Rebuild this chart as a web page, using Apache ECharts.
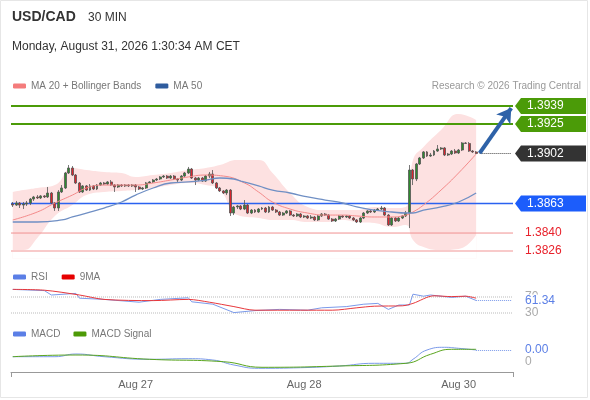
<!DOCTYPE html>
<html>
<head>
<meta charset="utf-8">
<script src="https://cdn.jsdelivr.net/npm/echarts@6/dist/echarts.min.js"></script>
<style>
html, body { margin: 0; padding: 0; background: #fff; }
#container { width: 590px; height: 400px; }
</style>
</head>
<body>
<div id="container"></div>
<script>
var dom = document.getElementById("container");
var myChart = echarts.init(dom);
var option;

// 30 min candles, [open, close, low, high]
var candles = [
  [1.38626,1.38618,1.38603,1.38642],[1.38618,1.38634,1.38611,1.38650],[1.38634,1.38618,1.38595,1.38642],
  [1.38618,1.38626,1.38587,1.38642],[1.38626,1.38634,1.38611,1.38650],[1.38634,1.38665,1.38618,1.38673],
  [1.38665,1.38681,1.38650,1.38689],[1.38681,1.38673,1.38665,1.38696],[1.38673,1.38689,1.38665,1.38696],
  [1.38689,1.38681,1.38673,1.38696],[1.38681,1.38712,1.38673,1.38759],[1.38712,1.38634,1.38626,1.38720],
  [1.38634,1.38595,1.38572,1.38642],[1.38595,1.38720,1.38572,1.38735],[1.38720,1.38751,1.38712,1.38774],
  [1.38751,1.38868,1.38743,1.38876],[1.38868,1.38907,1.38860,1.38930],[1.38907,1.38852,1.38844,1.38922],
  [1.38852,1.38790,1.38782,1.38860],[1.38790,1.38720,1.38712,1.38798],[1.38720,1.38767,1.38712,1.38774],
  [1.38767,1.38735,1.38728,1.38774],[1.38735,1.38767,1.38728,1.38782],[1.38767,1.38743,1.38735,1.38774],
  [1.38743,1.38774,1.38735,1.38782],[1.38774,1.38790,1.38767,1.38798],[1.38790,1.38782,1.38774,1.38798],
  [1.38782,1.38798,1.38774,1.38805],[1.38798,1.38774,1.38767,1.38813],[1.38774,1.38759,1.38720,1.38782],
  [1.38759,1.38774,1.38751,1.38782],[1.38774,1.38767,1.38759,1.38782],[1.38767,1.38774,1.38759,1.38782],
  [1.38774,1.38767,1.38759,1.38782],[1.38767,1.38774,1.38759,1.38782],[1.38774,1.38759,1.38720,1.38782],
  [1.38759,1.38743,1.38735,1.38767],[1.38743,1.38751,1.38735,1.38759],[1.38751,1.38790,1.38743,1.38798],
  [1.38790,1.38798,1.38782,1.38805],[1.38798,1.38813,1.38790,1.38821],[1.38813,1.38821,1.38805,1.38829],
  [1.38821,1.38837,1.38813,1.38844],[1.38837,1.38844,1.38829,1.38852],[1.38844,1.38829,1.38821,1.38852],
  [1.38829,1.38844,1.38821,1.38852],[1.38844,1.38821,1.38813,1.38852],[1.38821,1.38813,1.38798,1.38829],
  [1.38813,1.38844,1.38805,1.38852],[1.38844,1.38868,1.38837,1.38876],[1.38868,1.38899,1.38860,1.38915],
  [1.38899,1.38829,1.38821,1.38907],[1.38829,1.38813,1.38774,1.38837],[1.38813,1.38829,1.38805,1.38837],
  [1.38829,1.38805,1.38798,1.38837],[1.38805,1.38844,1.38798,1.38852],[1.38844,1.38860,1.38829,1.38876],
  [1.38860,1.38790,1.38782,1.38891],[1.38790,1.38751,1.38743,1.38798],[1.38751,1.38728,1.38720,1.38759],
  [1.38728,1.38712,1.38704,1.38735],[1.38712,1.38735,1.38696,1.38743],[1.38735,1.38556,1.38533,1.38743],
  [1.38556,1.38603,1.38540,1.38611],[1.38603,1.38611,1.38587,1.38618],[1.38611,1.38587,1.38579,1.38618],
  [1.38587,1.38618,1.38579,1.38657],[1.38618,1.38556,1.38548,1.38626],[1.38556,1.38579,1.38548,1.38587],
  [1.38579,1.38564,1.38556,1.38587],[1.38564,1.38587,1.38556,1.38595],[1.38587,1.38595,1.38579,1.38603],
  [1.38595,1.38564,1.38556,1.38603],[1.38564,1.38603,1.38556,1.38611],[1.38603,1.38579,1.38572,1.38611],
  [1.38579,1.38564,1.38556,1.38587],[1.38564,1.38540,1.38533,1.38572],[1.38540,1.38556,1.38533,1.38564],
  [1.38556,1.38572,1.38548,1.38579],[1.38572,1.38540,1.38533,1.38579],[1.38540,1.38533,1.38525,1.38548],
  [1.38533,1.38548,1.38525,1.38556],[1.38548,1.38525,1.38517,1.38556],[1.38525,1.38533,1.38517,1.38540],
  [1.38533,1.38517,1.38509,1.38540],[1.38517,1.38525,1.38509,1.38540],[1.38525,1.38502,1.38494,1.38533],
  [1.38502,1.38533,1.38494,1.38540],[1.38533,1.38548,1.38525,1.38556],[1.38548,1.38540,1.38533,1.38556],
  [1.38540,1.38509,1.38502,1.38548],[1.38509,1.38494,1.38486,1.38517],[1.38494,1.38509,1.38486,1.38517],
  [1.38509,1.38533,1.38502,1.38540],[1.38533,1.38525,1.38517,1.38540],[1.38525,1.38533,1.38517,1.38540],
  [1.38533,1.38517,1.38509,1.38540],[1.38517,1.38502,1.38494,1.38525],[1.38502,1.38486,1.38478,1.38509],
  [1.38486,1.38517,1.38478,1.38525],[1.38517,1.38556,1.38509,1.38564],[1.38556,1.38572,1.38548,1.38579],
  [1.38572,1.38564,1.38556,1.38579],[1.38564,1.38579,1.38556,1.38587],[1.38579,1.38587,1.38572,1.38595],
  [1.38587,1.38595,1.38579,1.38611],[1.38595,1.38540,1.38533,1.38603],[1.38540,1.38463,1.38455,1.38548],
  [1.38463,1.38517,1.38455,1.38525],[1.38517,1.38494,1.38486,1.38525],[1.38494,1.38517,1.38486,1.38525],
  [1.38517,1.38533,1.38509,1.38540],[1.38533,1.38556,1.38525,1.38572],[1.38556,1.38891,1.38439,1.38930],
  [1.38891,1.38821,1.38774,1.38899],[1.38821,1.38938,1.38805,1.38946],[1.38938,1.38985,1.38930,1.38993],
  [1.38985,1.39032,1.38977,1.39039],[1.39032,1.39000,1.38993,1.39039],[1.39000,1.39008,1.38993,1.39024],
  [1.39008,1.39039,1.39000,1.39047],[1.39039,1.39055,1.39032,1.39086],[1.39055,1.39063,1.39047,1.39070],
  [1.39063,1.39008,1.39000,1.39070],[1.39008,1.39016,1.39000,1.39024],[1.39016,1.39039,1.39008,1.39047],
  [1.39039,1.39024,1.39016,1.39055],[1.39024,1.39047,1.39016,1.39055],[1.39047,1.39102,1.39039,1.39109],
  [1.39102,1.39098,1.39094,1.39109],[1.39098,1.39039,1.39032,1.39109],[1.39039,1.39032,1.39024,1.39047],
  [1.39032,1.39020,1.39016,1.39039]
];

// empty slots on the right of the last candle
var slotCount = 143;

// moving averages, [candle index, price]
var ma20 = [[0,1.38502],[7,1.38564],[12,1.38634],[17,1.38696],[21,1.38751],[26,1.38774],[35,1.38774],
  [40,1.38790],[45,1.38813],[50,1.38837],[55,1.38852],[60,1.38844],[66,1.38790],[70,1.38720],[74,1.38642],
  [79,1.38587],[84,1.38556],[89,1.38540],[94,1.38540],[98,1.38533],[103,1.38525],[108,1.38525],[112,1.38540],
  [114,1.38564],[117,1.38618],[122,1.38735],[127,1.38868],[132,1.39016]];
var ma50 = [[0,1.38486],[7,1.38486],[14,1.38502],[17,1.38525],[21,1.38556],[26,1.38595],[31,1.38642],
  [35,1.38696],[40,1.38751],[45,1.38790],[50,1.38798],[55,1.38813],[59,1.38829],[63,1.38821],[65,1.38805],
  [70,1.38767],[74,1.38735],[79,1.38712],[84,1.38681],[89,1.38657],[94,1.38634],[98,1.38603],[103,1.38579],
  [108,1.38564],[112,1.38556],[114,1.38556],[117,1.38579],[122,1.38603],[127,1.38642],[132,1.38712]];

// Bollinger band edges
var bandIdx = [0,3,7,12,17,21,26,31,35,40,45,50,55,59,64,70,74,79,84,89,94,98,103,108,112,114,117,122,127,132];
var bandUpper = [1.38720,1.38735,1.38751,1.38774,1.38907,1.38891,1.38876,1.38868,1.38837,1.38852,1.38868,
  1.38891,1.38907,1.38930,1.38969,1.38969,1.38868,1.38712,1.38603,1.38579,1.38579,1.38579,1.38603,1.38595,
  1.38603,1.38969,1.39070,1.39203,1.39328,1.39281];
var bandLower = [1.38268,1.38268,1.38362,1.38533,1.38618,1.38696,1.38720,1.38728,1.38735,1.38751,1.38774,
  1.38790,1.38774,1.38735,1.38540,1.38517,1.38502,1.38502,1.38486,1.38486,1.38502,1.38486,1.38478,1.38447,
  1.38463,1.38346,1.38291,1.38268,1.38276,1.38385];

// RSI panel
var rsi = [[0,89],[9,86],[11,75],[18,79],[19,67],[26,64],[36,57],[42,64],[50,68],[51,58],[57,52],[63,31],
  [69,36],[76,39],[84,37],[88,43],[95,46],[100,52],[104,54],[107,39],[110,50],[113,50],[114,77],[117,72],
  [119,75],[125,69],[129,72],[132,61.34]];
var rsiMa = [[0,89],[9,87],[19,75],[26,64],[40,61],[50,64],[56,57],[63,46],[69,37],[82,37],[91,37],[98,43],
  [103,47],[111,48],[114,54],[120,73],[125,71],[129,72],[132,67]];
var rsiBands = [70, 30];

// MACD panel
var macd = [[0,0.000106],[12,0.000106],[18,0.00016],[26,0.000106],[39,0.000054],[50,0.000066],[57,0.00004],
  [63,-0.00006],[70,-0.000126],[82,-0.000114],[93,-0.00008],[103,-0.000026],[112,-0.000026],[114,0.000054],
  [118,0.00024],[123,0.000294],[127,0.000274],[132,0.00024]];
var macdSignal = [[0,0.000106],[18,0.00014],[39,0.000054],[60,0.000006],[71,-0.000106],[93,-0.00008],
  [112,-0.000026],[119,0.000154],[125,0.000254],[132,0.000254]];

// support / resistance levels, last price and arrow target
var resistances = [1.3939, 1.3925];
var lastPrice = 1.3902;
var pivot = 1.3863;
var supports = [1.3840, 1.3826];
var arrowTarget = 1.39374;

var dateTicks = [[35, "Aug 27"], [83, "Aug 28"], [127, "Aug 30"]];

var FONT = "Arial, 'Liberation Sans', sans-serif";
var lastIdx = candles.length - 1;
var endIdx = slotCount - 1;

var categories = [];
for (var i = 0; i < slotCount; i++) categories.push(String(i));

var tickMap = {};
dateTicks.forEach(function (t) { tickMap[t[0]] = t[1]; });

var upperPts = bandIdx.map(function (x, k) { return [x, bandUpper[k]]; });
var lowerPts = bandIdx.map(function (x, k) { return [x, bandLower[k]]; });

// a horizontal line across a whole panel (drawn on a hidden 0..1 value x axis)
function levelSeries(v, xAxisIndex, yAxisIndex, lineStyle) {
  return { type: "line", xAxisIndex: xAxisIndex, yAxisIndex: yAxisIndex, data: [[0, v], [1, v]],
    symbol: "none", silent: true, z: 2, lineStyle: lineStyle };
}

// last price dotted line and forecast arrow, hosted by the candles
var priceLines = [
  [{ coord: [lastIdx + 1, lastPrice], lineStyle: { color: "#444", width: 1, type: "dotted" } },
   { coord: [endIdx, lastPrice] }],
  [{ coord: [lastIdx + 1, lastPrice + 0.00002], lineStyle: { color: "#2e62a8", width: 4, type: "solid" } },
   { coord: [endIdx, arrowTarget], symbol: "arrow", symbolSize: [13, 14] }]
];

var legendText = { color: "#777", fontSize: 10, fontFamily: FONT };

option = {
  animation: false,
  backgroundColor: "#fff",
  textStyle: { fontFamily: FONT },
  title: [
    { text: "USD/CAD", left: 12, top: 10, padding: 0,
      textStyle: { fontSize: 14, fontWeight: "bold", color: "#333", fontFamily: FONT } },
    { text: "30 MIN", left: 88, top: 12, padding: 0,
      textStyle: { fontSize: 12, fontWeight: "normal", color: "#333", fontFamily: FONT } },
    { text: "Monday, August 31, 2026 1:30:34 AM CET", left: 12, top: 41, padding: 0,
      textStyle: { fontSize: 12, fontWeight: "normal", color: "#333", fontFamily: FONT } },
    { text: "Research \u00a9 2026 Trading Central", right: 9, top: 81, padding: 0,
      textStyle: { fontSize: 10, fontWeight: "normal", color: "#999", fontFamily: FONT } }
  ],
  legend: [
    { left: 13, top: 81, padding: 0, icon: "roundRect", itemWidth: 13, itemHeight: 5, itemGap: 14,
      selectedMode: false, textStyle: legendText,
      data: [{ name: "MA 20 + Bollinger Bands", itemStyle: { color: "#f47c7c" } },
             { name: "MA 50", itemStyle: { color: "#2f5c9e" } }] },
    { left: 13, top: 272, padding: 0, icon: "roundRect", itemWidth: 13, itemHeight: 5, itemGap: 14,
      selectedMode: false, textStyle: legendText,
      data: [{ name: "RSI", itemStyle: { color: "#5b7fe6" } },
             { name: "9MA", itemStyle: { color: "#e60000" } }] },
    { left: 13, top: 329, padding: 0, icon: "roundRect", itemWidth: 13, itemHeight: 5, itemGap: 13,
      selectedMode: false, textStyle: legendText,
      data: [{ name: "MACD", itemStyle: { color: "#5b7fe6" } },
             { name: "MACD Signal", itemStyle: { color: "#4d9a06" } }] }
  ],
  grid: [
    { left: 11, width: 502, top: 98.3, height: 160.4, outerBoundsMode: "none" },
    { left: 11, width: 502, top: 285, height: 40, outerBoundsMode: "none" },
    { left: 11, width: 502, top: 342, height: 30, outerBoundsMode: "none" }
  ],
  xAxis: [
    { type: "category", gridIndex: 0, data: categories, show: false },
    { type: "category", gridIndex: 1, data: categories, show: false },
    { type: "category", gridIndex: 2, data: categories, position: "bottom",
      axisLine: { show: false }, axisTick: { show: false }, splitLine: { show: false },
      axisLabel: {
        color: "#666", fontSize: 11, margin: 7, fontFamily: FONT,
        interval: function (index) { return tickMap[index] !== undefined; },
        formatter: function (value, index) { return tickMap[index] || ""; }
      } },
    { type: "value", gridIndex: 2, position: "bottom", offset: 0, min: 0, max: 1, interval: 1,
      axisLine: { show: true, lineStyle: { color: "#999", width: 1 } },
      axisTick: { show: true, length: 5, lineStyle: { color: "#999" } },
      axisLabel: { show: false }, splitLine: { show: false } },
    { type: "value", gridIndex: 0, min: 0, max: 1, show: false, splitLine: { show: false } },
    { type: "value", gridIndex: 1, min: 0, max: 1, show: false, splitLine: { show: false } }
  ],
  yAxis: [
    { type: "value", gridIndex: 0, min: 1.3820, max: 1.3945, show: false, splitLine: { show: false } },
    { type: "value", gridIndex: 1, min: 0, max: 100, show: false, splitLine: { show: false } },
    { type: "value", gridIndex: 2, min: -0.0002, max: 0.0004, show: false, splitLine: { show: false } }
  ],
  series: [
    { name: "bandUpper", type: "line", xAxisIndex: 0, yAxisIndex: 0, data: upperPts,
      smooth: true, symbol: "none", lineStyle: { opacity: 0 }, silent: true, z: 1,
      areaStyle: { color: "#fde1e1", opacity: 1, origin: "start" } },
    { name: "bandLower", type: "line", xAxisIndex: 0, yAxisIndex: 0, data: lowerPts,
      smooth: true, symbol: "none", lineStyle: { opacity: 0 }, silent: true, z: 1,
      areaStyle: { color: "#ffffff", opacity: 1, origin: "start" } },
    levelSeries(resistances[0], 4, 0, { color: "#4b9b08", width: 2 }),
    levelSeries(resistances[1], 4, 0, { color: "#4b9b08", width: 2 }),
    levelSeries(pivot, 4, 0, { color: "#2a62f0", width: 1.3 }),
    levelSeries(supports[0], 4, 0, { color: "#f09090", width: 1 }),
    levelSeries(supports[1], 4, 0, { color: "#f6b8b8", width: 1.5 }),
    levelSeries(rsiBands[0], 5, 1, { color: "#bbb", width: 1, type: "dotted" }),
    levelSeries(rsiBands[1], 5, 1, { color: "#bbb", width: 1, type: "dotted" }),
    { name: "USD/CAD", type: "candlestick", xAxisIndex: 0, yAxisIndex: 0, data: candles,
      barWidth: "70%", z: 3,
      itemStyle: { color: "#2e8b2e", color0: "#d9252d", borderColor: "#555", borderColor0: "#555", borderWidth: 0.8 },
      markLine: { silent: true, symbol: ["none", "none"], label: { show: false },
        emphasis: { disabled: true }, data: priceLines } },
    { name: "MA 20 + Bollinger Bands", type: "line", xAxisIndex: 0, yAxisIndex: 0, data: ma20,
      smooth: true, symbol: "none", z: 4, color: "#f47c7c",
      lineStyle: { color: "#f48a8a", width: 1 } },
    { name: "MA 50", type: "line", xAxisIndex: 0, yAxisIndex: 0, data: ma50,
      smooth: true, symbol: "none", z: 4, color: "#2f5c9e",
      lineStyle: { color: "#6f8fc4", width: 1.3 } },
    { name: "RSI", type: "line", xAxisIndex: 1, yAxisIndex: 1, data: rsi,
      symbol: "none", color: "#5b7fe6", lineStyle: { color: "#7b9aea", width: 1 }, z: 3,
      markLine: { silent: true, symbol: ["none", "none"], label: { show: false },
        data: [
          [{ coord: [lastIdx, rsi[rsi.length - 1][1]], lineStyle: { color: "#7b9aea", type: "dotted", width: 1 } },
           { coord: [endIdx, rsi[rsi.length - 1][1]] }]
        ] } },
    { name: "9MA", type: "line", xAxisIndex: 1, yAxisIndex: 1, data: rsiMa, smooth: 0.3,
      symbol: "none", color: "#e60000", lineStyle: { color: "#e8383c", width: 1 }, z: 4 },
    { name: "MACD", type: "line", xAxisIndex: 2, yAxisIndex: 2, data: macd, smooth: true,
      symbol: "none", color: "#5b7fe6", lineStyle: { color: "#7b9aea", width: 1 }, z: 3,
      markLine: { silent: true, symbol: ["none", "none"], label: { show: false },
        data: [
          [{ coord: [lastIdx, macd[macd.length - 1][1]], lineStyle: { color: "#7b9aea", type: "dotted", width: 1 } },
           { coord: [endIdx, macd[macd.length - 1][1]] }]
        ] } },
    { name: "MACD Signal", type: "line", xAxisIndex: 2, yAxisIndex: 2, data: macdSignal, smooth: true,
      symbol: "none", color: "#4d9a06", lineStyle: { color: "#5aa51e", width: 1 }, z: 4 }
  ]
};

myChart.setOption(option, true);

// price / value tags on the right side
function yOf(axis, v) { return myChart.convertToPixel({ yAxisIndex: axis }, v); }

function tag(v, fill) {
  var y = yOf(0, v);
  return {
    type: "group", z: 100, children: [
      { type: "polygon", shape: { points: [[515, y], [521, y - 8], [586, y - 8], [586, y + 8], [521, y + 8]] },
        style: { fill: fill } },
      { type: "text", x: 527, y: y, style: { text: v.toFixed(4), fill: "#fff", font: "12px " + FONT,
        verticalAlign: "middle" } }
    ]
  };
}

function plainText(axis, v, text, color, bg) {
  return { type: "text", x: 525, y: yOf(axis, v), z: 100,
    style: { text: text, fill: color, font: "12px " + FONT, verticalAlign: "middle",
      backgroundColor: bg || null, padding: bg ? [0, 2, 0, 0] : 0 } };
}

var tags = [
  { type: "rect", shape: { x: 0.5, y: 0.5, width: 587, height: 397 },
    style: { fill: null, stroke: "#e6e6e6", lineWidth: 1 }, z: 0 }
];
resistances.forEach(function (v) { tags.push(tag(v, "#4b9b08")); });
tags.push(tag(lastPrice, "#333333"));
tags.push(tag(pivot, "#1c5dfb"));
supports.forEach(function (v) { tags.push(plainText(0, v, v.toFixed(4), "#e8212b")); });
tags.push(plainText(1, rsiBands[0], String(rsiBands[0]), "#aaa"));
tags.push(plainText(1, rsiBands[1], String(rsiBands[1]), "#aaa"));
tags.push(plainText(1, rsi[rsi.length - 1][1], rsi[rsi.length - 1][1].toFixed(2), "#5b7fe6", "#fff"));
tags.push(plainText(2, macd[macd.length - 1][1], macd[macd.length - 1][1].toFixed(2), "#5b7fe6"));
tags.push(plainText(2, 0, "0", "#aaa"));

myChart.setOption({ graphic: tags });
</script>
</body>
</html>
